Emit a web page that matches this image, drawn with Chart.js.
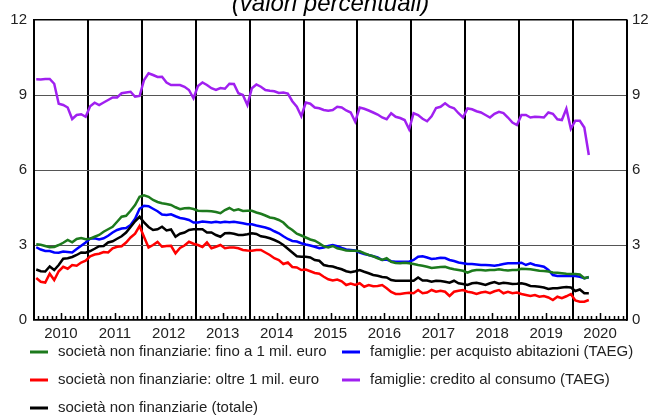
<!DOCTYPE html>
<html>
<head>
<meta charset="utf-8">
<script src="https://cdn.jsdelivr.net/npm/chart.js@4.4.0/dist/chart.umd.min.js"></script>
<style>
  body { margin: 0; background: #fff; }
</style>
</head>
<body>
<canvas id="myChart" width="652" height="418"></canvas>
<script>
/* Tassi di interesse - dati mensili da gennaio 2010 */

const titleText = '(valori percentuali)';
const yearLabels = ['2010', '2011', '2012', '2013', '2014', '2015', '2016', '2017', '2018', '2019', '2020'];

const seriesNames = [
    'società non finanziarie: fino a 1 mil. euro',
    'società non finanziarie: oltre 1 mil. euro',
    'società non finanziarie (totale)',
    'famiglie: per acquisto abitazioni (TAEG)',
    'famiglie: credito al consumo (TAEG)'
];

const finoUnMil = [
    3.03, 3.01, 2.96, 2.91, 2.92, 3.0, 3.09, 3.2, 3.11, 3.24, 3.28, 3.23,
    3.25, 3.33, 3.4, 3.53, 3.63, 3.73, 3.93, 4.13, 4.17, 4.37, 4.6, 4.93,
    4.99, 4.93, 4.8, 4.72, 4.67, 4.64, 4.6, 4.51, 4.43, 4.47, 4.48, 4.44,
    4.37, 4.36, 4.36, 4.35, 4.32, 4.27, 4.4, 4.48, 4.38, 4.43, 4.36, 4.37,
    4.37, 4.3, 4.25, 4.18, 4.1, 4.07, 4.0, 3.9, 3.72, 3.6, 3.45, 3.38,
    3.3, 3.22, 3.17, 3.07, 2.95, 2.9, 2.96, 2.87, 2.83, 2.78, 2.77, 2.77,
    2.75, 2.67, 2.6, 2.55, 2.47, 2.4, 2.47, 2.33, 2.28, 2.27, 2.29, 2.27,
    2.24, 2.2, 2.17, 2.13, 2.08, 2.1, 2.12, 2.13, 2.07, 2.03, 2.0, 1.97,
    1.89, 1.97, 2.0, 2.0, 1.98, 2.0, 2.0, 2.03, 2.0, 1.98, 2.0, 2.0,
    2.05, 2.04, 2.03, 2.0, 1.97, 1.96, 1.94, 1.9, 1.89, 1.87, 1.85, 1.84,
    1.84, 1.82, 1.67, 1.72
];

const oltreUnMil = [
    1.68, 1.53, 1.5, 1.85, 1.6, 1.95, 2.13, 2.05, 2.2, 2.17, 2.3, 2.37,
    2.55, 2.62, 2.65, 2.72, 2.7, 2.87, 2.93, 2.95, 3.1, 3.3, 3.45, 3.76,
    3.32, 2.9, 3.0, 3.12, 2.93, 2.96, 2.97, 2.67, 2.88, 2.98, 3.13, 3.05,
    3.0, 2.92, 3.1, 2.87, 2.93, 3.0, 2.87, 2.9, 2.9, 2.87, 2.8, 2.78,
    2.77, 2.8, 2.8, 2.7, 2.6, 2.47, 2.4, 2.24, 2.3, 2.12, 2.1, 2.0,
    2.02, 1.95, 1.88, 1.85, 1.73, 1.63, 1.58, 1.62, 1.55, 1.4, 1.46, 1.4,
    1.47, 1.33, 1.4, 1.35, 1.36, 1.4, 1.27, 1.12, 1.04, 1.04, 1.07, 1.09,
    1.07, 1.2, 1.07, 1.1, 1.2, 1.13, 1.17, 1.13, 0.96, 1.13, 1.17, 1.2,
    1.13, 1.1, 1.04, 1.1, 1.13, 1.07, 1.15, 1.2, 1.07, 1.13, 1.07, 1.1,
    1.04, 1.0, 0.96, 1.0, 0.93, 0.96, 0.9, 0.8, 0.93, 0.87, 0.95, 1.04,
    0.78, 0.73, 0.73, 0.8
];

const totaleImprese = [
    2.02, 1.95, 1.94, 2.14, 2.0, 2.2, 2.45, 2.47, 2.52, 2.6, 2.7, 2.69,
    2.76, 2.85, 2.95, 2.96, 3.1, 3.15, 3.25, 3.35, 3.5, 3.72, 3.95, 4.13,
    3.9, 3.72, 3.6, 3.63, 3.73, 3.58, 3.62, 3.33, 3.45, 3.5, 3.6, 3.63,
    3.63, 3.63, 3.5, 3.5, 3.4, 3.33, 3.47, 3.48, 3.45, 3.4, 3.4, 3.43,
    3.47, 3.44, 3.35, 3.32, 3.27, 3.2, 3.12, 3.0, 2.85, 2.7, 2.55, 2.53,
    2.53, 2.5, 2.4, 2.37, 2.2, 2.16, 2.14, 2.08, 2.03, 1.95, 1.91, 1.95,
    2.0, 1.93, 1.87, 1.8, 1.77, 1.72, 1.7, 1.6, 1.57, 1.57, 1.57, 1.57,
    1.57, 1.7, 1.58, 1.58, 1.53, 1.57, 1.56, 1.53, 1.49, 1.57, 1.47, 1.44,
    1.4, 1.47, 1.49, 1.45, 1.4, 1.47, 1.52, 1.45, 1.49, 1.47, 1.44, 1.45,
    1.47, 1.43, 1.36, 1.35, 1.33, 1.3, 1.24, 1.27, 1.27, 1.3, 1.32, 1.3,
    1.16, 1.22, 1.07, 1.07
];

const abitazioni = [
    2.91, 2.82, 2.76, 2.76, 2.7, 2.69, 2.74, 2.72, 2.7, 2.84, 2.97, 3.1,
    3.26, 3.27, 3.22, 3.27, 3.37, 3.5, 3.6, 3.66, 3.68, 3.8, 4.05, 4.45,
    4.57, 4.55, 4.45, 4.35, 4.22, 4.2, 4.23, 4.15, 4.08, 4.05, 4.0, 3.9,
    3.9, 3.94, 3.92, 3.9, 3.93, 3.9, 3.93, 3.91, 3.93, 3.9, 3.87, 3.83,
    3.83, 3.78, 3.74, 3.7, 3.64, 3.55, 3.47, 3.35, 3.24, 3.16, 3.14, 3.07,
    3.02, 2.98, 2.93, 2.87, 2.9, 2.96, 3.0, 2.95, 2.88, 2.82, 2.8, 2.78,
    2.7, 2.64, 2.6, 2.55, 2.5, 2.4, 2.42, 2.35, 2.33, 2.33, 2.33, 2.33,
    2.4, 2.53, 2.55, 2.5, 2.44, 2.46, 2.49, 2.48, 2.4, 2.36, 2.3, 2.27,
    2.24, 2.24, 2.22, 2.2, 2.2, 2.19, 2.17, 2.2, 2.24, 2.27, 2.27, 2.27,
    2.29, 2.2, 2.27, 2.2, 2.17, 2.13, 2.0, 1.8, 1.76, 1.76, 1.76, 1.76,
    1.76, 1.73, 1.67, 1.71
];

const creditoConsumo = [
    9.63, 9.62, 9.64, 9.64, 9.45, 8.65, 8.6, 8.5, 8.04, 8.2, 8.23, 8.13,
    8.55, 8.69, 8.6, 8.7, 8.8, 8.9, 8.9, 9.07, 9.1, 9.13, 8.93, 8.96,
    9.6, 9.87, 9.8, 9.72, 9.73, 9.5, 9.4, 9.4, 9.4, 9.33, 9.2, 8.87,
    9.36, 9.5, 9.4, 9.27, 9.2, 9.28, 9.25, 9.45, 9.44, 9.07, 9.0, 8.6,
    9.27, 9.42, 9.33, 9.2, 9.17, 9.15, 9.08, 9.1, 9.06, 8.75, 8.53, 8.15,
    8.7, 8.65, 8.5, 8.47, 8.4, 8.37, 8.4, 8.53, 8.5, 8.38, 8.3, 7.93,
    8.5, 8.45, 8.38, 8.3, 8.22, 8.1, 8.03, 8.27, 8.13, 8.08, 8.0, 7.63,
    8.27, 8.2, 8.05, 7.95, 8.15, 8.48, 8.53, 8.67, 8.53, 8.47, 8.27, 8.1,
    8.46, 8.43, 8.35, 8.3, 8.2, 8.1, 8.25, 8.33, 8.28, 8.1, 7.9, 7.8,
    8.2, 8.2, 8.1, 8.13, 8.12, 8.1, 8.3, 8.25, 8.03, 8.0, 8.45, 7.65,
    7.97, 7.97, 7.7, 6.6
];

const seriesColors = ['#1d7a1d', '#ff0000', '#000000', '#0000ff', '#a020f0'];
const allSeries = [finoUnMil, oltreUnMil, totaleImprese, abitazioni, creditoConsumo];

const fontFamily = "'Liberation Sans', Arial, sans-serif";

// ogni valore mensile al centro del suo mese
function toPoints(values) {
    return values.map((v, i) => ({ x: i + 0.5, y: v }));
}

/* titolo tagliato in alto */
const titlePlugin = {
    id: 'titolo',
    afterDraw(chart) {
        const ctx = chart.ctx;
        const area = chart.chartArea;
        ctx.save();
        ctx.font = 'italic 24px ' + fontFamily;
        ctx.fillStyle = '#000';
        ctx.textAlign = 'center';
        ctx.textBaseline = 'alphabetic';
        ctx.fillText(titleText, (area.left + area.right) / 2, 11);
        ctx.restore();
    }
};

/* tacche mensili sull'asse x */
const monthTicks = {
    id: 'tacche',
    afterDraw(chart) {
        const ctx = chart.ctx;
        const xs = chart.scales.x;
        const bottom = chart.chartArea.bottom;
        ctx.save();
        ctx.strokeStyle = '#000';
        ctx.lineWidth = 1.5;
        for (let m = 1; m < 132; m++) {
            if (m % 12 === 0) continue;
            const len = m % 12 === 6 ? 7 : 4;
            const x = Math.round(xs.getPixelForValue(m)) + 0.5;
            ctx.beginPath();
            ctx.moveTo(x, bottom);
            ctx.lineTo(x, bottom - len);
            ctx.stroke();
        }
        ctx.restore();
    }
};

/* legenda su due colonne */
const legendOrder = [0, 1, 2, 3, 4];
const legendPlugin = {
    id: 'legenda',
    afterDraw(chart) {
        const ctx = chart.ctx;
        const cols = [30, 342];
        const rows = [352, 380, 408];
        ctx.save();
        ctx.font = '15px ' + fontFamily;
        ctx.textBaseline = 'middle';
        ctx.textAlign = 'left';
        legendOrder.forEach((idx, k) => {
            const col = k < 3 ? 0 : 1;
            const row = k < 3 ? k : k - 3;
            const x = cols[col];
            const y = rows[row];
            ctx.strokeStyle = seriesColors[idx];
            ctx.lineWidth = 3;
            ctx.beginPath();
            ctx.moveTo(x, y);
            ctx.lineTo(x + 18, y);
            ctx.stroke();
            ctx.fillStyle = '#222';
            ctx.fillText(seriesNames[idx], x + 28, y);
        });
        ctx.restore();
    }
};

const ctx = document.getElementById('myChart').getContext('2d');
const myChart = new Chart(ctx, {
    type: 'line',
    data: {
        datasets: allSeries.map((values, i) => ({
            label: seriesNames[i],
            data: toPoints(values),
            borderColor: seriesColors[i],
            backgroundColor: seriesColors[i],
            borderWidth: 2.5,
            pointRadius: 0,
            tension: 0,
            fill: false
        }))
    },
    options: {
        responsive: false,
        animation: false,
        layout: {
            padding: { top: 20, left: 0, right: 0, bottom: 0 }
        },
        font: { family: fontFamily },
        plugins: {
            legend: { display: false },
            tooltip: { enabled: false },
            title: { display: false }
        },
        scales: {
            x: {
                type: 'linear',
                min: 0,
                max: 132,
                afterBuildTicks: function(scale) {
                    const t = [];
                    for (let v = 0; v <= 132; v += 6) t.push({ value: v });
                    scale.ticks = t;
                },
                afterFit: function(scale) {
                    scale.height = 98;
                },
                grid: {
                    color: function(c) {
                        return c.tick && c.tick.value % 12 === 0 ? '#000' : 'rgba(0,0,0,0)';
                    },
                    lineWidth: 2,
                    drawTicks: false
                },
                border: { color: '#000', width: 1.5 },
                ticks: {
                    autoSkip: false,
                    maxRotation: 0,
                    padding: 5,
                    color: '#222',
                    font: { family: fontFamily, size: 15 },
                    callback: function(value) {
                        return value % 12 === 6 ? yearLabels[(value - 6) / 12] : '';
                    }
                }
            },
            y: {
                min: 0,
                max: 12,
                afterFit: function(scale) {
                    scale.width = 34;
                },
                ticks: {
                    stepSize: 3,
                    padding: 7,
                    color: '#222',
                    font: { family: fontFamily, size: 15 }
                },
                grid: {
                    color: function(c) {
                        return (c.tick.value === 0 || c.tick.value === 12) ? '#000' : '#555';
                    },
                    lineWidth: function(c) {
                        return (c.tick.value === 0 || c.tick.value === 12) ? 1.5 : 1;
                    },
                    drawTicks: false
                },
                border: { color: '#000', width: 2 }
            },
            y2: {
                position: 'right',
                min: 0,
                max: 12,
                afterFit: function(scale) {
                    scale.width = 25;
                },
                ticks: {
                    stepSize: 3,
                    padding: 5,
                    color: '#222',
                    font: { family: fontFamily, size: 15 }
                },
                grid: { display: false, drawTicks: false },
                border: { color: '#000', width: 1.5 }
            }
        }
    },
    plugins: [titlePlugin, monthTicks, legendPlugin]
});
</script>
</body>
</html>
